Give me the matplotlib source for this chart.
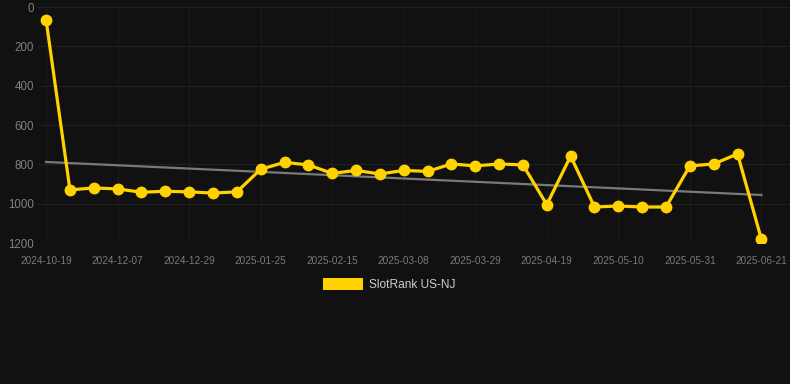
import matplotlib
matplotlib.use("Agg")
import matplotlib.pyplot as plt
import numpy as np
from matplotlib.patches import Rectangle

dates = ["2024-10-19", "2024-11-02", "2024-11-23", "2024-12-07", "2024-12-14",
         "2024-12-21", "2024-12-29", "2025-01-04", "2025-01-18", "2025-01-25",
         "2025-02-01", "2025-02-08", "2025-02-15", "2025-02-22", "2025-03-01",
         "2025-03-08", "2025-03-15", "2025-03-22", "2025-03-29", "2025-04-05",
         "2025-04-12", "2025-04-19", "2025-04-26", "2025-05-03", "2025-05-10",
         "2025-05-17", "2025-05-24", "2025-05-31", "2025-06-07", "2025-06-14",
         "2025-06-21"]
ranks = [66, 930, 920, 925, 942, 937, 940, 946, 940, 825,
         790, 803, 846, 831, 849, 831, 836, 798, 808, 798,
         803, 1005, 758, 1017, 1012, 1017, 1017, 808, 798, 747,
         1181]
trend_values = [788, 956]  # trend line at first and last category
series_name = "SlotRank US-NJ"
y_ticks = [0, 200, 400, 600, 800, 1000, 1200]

plt.rcParams['font.family'] = ['Liberation Sans', 'DejaVu Sans']

bg = "#111111"
fig = plt.figure(figsize=(7.9, 3.84), dpi=100, facecolor=bg)
ax = fig.add_axes([38/790, 1 - 243/384, 1 - 38/790, (243 - 7)/384])
ax.set_facecolor(bg)

x = np.arange(len(dates))
y = np.array(ranks, dtype=float)

ax.plot([x[0], x[-1]], trend_values, color="#7a7a7a", lw=1.6, zorder=2)

ax.plot(x, y, color="#FFD200", lw=2.3, marker="o", markersize=7.5,
        markerfacecolor="#FFD200", markeredgecolor="#FFD200", zorder=3)

ax.set_ylim(1200, 0)
ax.set_xlim(-0.34, 31.2)
ax.set_yticks(y_ticks)
ax.set_yticklabels([str(t) for t in y_ticks])
tick_idx = list(range(0, len(dates), 3))
ax.set_xticks(tick_idx)
ax.set_xticklabels([dates[i] for i in tick_idx])

for s in ax.spines.values():
    s.set_visible(False)
ax.grid(True, axis="y", color="#1f1f1f", lw=0.9)
ax.grid(True, axis="x", color="#1a1a1a", lw=0.9)
ax.set_axisbelow(True)
ax.tick_params(axis="y", length=0, pad=3, labelsize=8.3, labelcolor="#808080")
ax.tick_params(axis="x", length=0, pad=9, labelsize=7.2, labelcolor="#7a7a7a")

# legend
fig.patches.append(Rectangle((323/790, 1 - 290/384), 40/790, 12/384,
                             transform=fig.transFigure, facecolor="#FFD200",
                             edgecolor="none"))
fig.text(369/790, 1 - 284.5/384, series_name, color="#cccccc", fontsize=8.6,
         va="center", ha="left")

fig.savefig("out.png", dpi=100, facecolor=bg)
